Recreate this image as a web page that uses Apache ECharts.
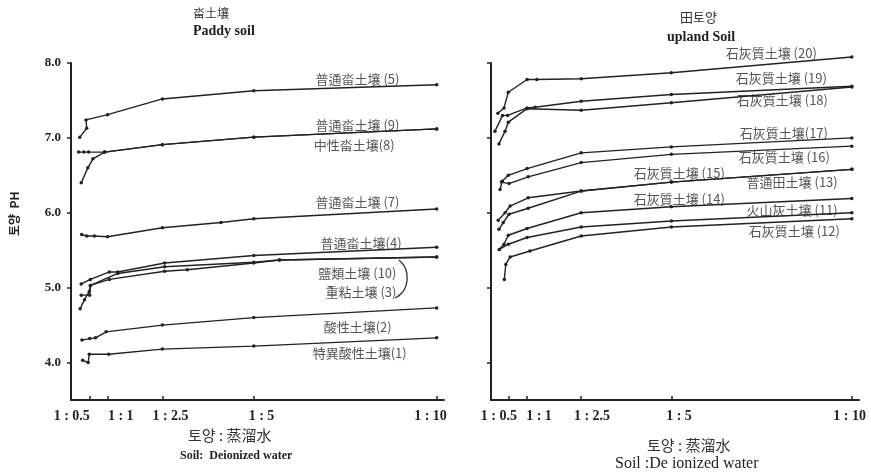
<!DOCTYPE html>
<html>
<head>
<meta charset="utf-8">
<script src="https://cdn.jsdelivr.net/npm/echarts@6/dist/echarts.min.js"></script>
<style>
html,body{margin:0;padding:0;background:#fff;}
#c{width:871px;height:475px;}
</style>
</head>
<body>
<div id="c"></div>
<script>
// ---- ratio ticks (soil : water) ----
const ratioTicks = [0.5, 1, 2.5, 5, 10];
const ratioLabels = ['1 : 0.5', '1 : 1', '1 : 2.5', '1 : 5', '1 : 10'];
const phTicks = [4, 5, 6, 7, 8];

// ---- Paddy soil (x = water ratio, y = pH) ----
const paddy5  = [[0.24,7.01],[0.43,7.13],[0.41,7.24],[1.0,7.31],[2.5,7.52],[5,7.63],[10,7.71]];
const paddy9  = [[0.21,6.81],[0.35,6.81],[0.48,6.81],[0.92,6.81],[2.5,6.91],[5,7.01],[10,7.12]];
const paddy8  = [[0.28,6.40],[0.46,6.60],[0.6,6.72],[0.92,6.81],[2.5,6.91],[5,7.01],[10,7.12]];
const paddy7  = [[0.29,5.71],[0.43,5.69],[0.64,5.69],[1.0,5.68],[2.5,5.80],[4.1,5.87],[5,5.92],[10,6.05]];
const paddy4  = [[0.28,5.05],[0.53,5.11],[1.05,5.21],[1.28,5.21],[2.56,5.33],[5,5.43],[10,5.54]];
const paddy10 = [[0.28,4.90],[0.51,4.90],[0.53,5.03],[1.05,5.11],[2.56,5.22],[3.18,5.24],[5,5.33],[5.7,5.37],[10,5.41]];
const paddy3  = [[0.25,4.72],[0.37,4.84],[0.5,4.95],[0.53,5.03],[1.28,5.19],[2.56,5.28],[5,5.34],[5.7,5.37],[10,5.41]];
const paddy2  = [[0.3,4.30],[0.51,4.32],[0.67,4.33],[0.96,4.41],[2.5,4.50],[5,4.60],[10,4.73]];
const paddy1  = [[0.32,4.03],[0.47,4.00],[0.5,4.11],[1.03,4.11],[2.5,4.18],[5,4.22],[10,4.33]];

// ---- Upland soil ----
const up20 = [[0.19,7.33],[0.36,7.40],[0.48,7.61],[1.0,7.78],[1.27,7.78],[2.5,7.79],[5,7.87],[10,8.08]];
const up19 = [[0.11,7.09],[0.32,7.30],[0.46,7.30],[1.0,7.40],[1.22,7.41],[2.5,7.49],[5,7.58],[10,7.69]];
const up18 = [[0.22,6.92],[0.39,7.09],[0.48,7.21],[1.0,7.39],[2.5,7.37],[5,7.47],[10,7.68]];
const up17 = [[0.25,6.31],[0.31,6.42],[0.48,6.50],[1.0,6.59],[2.5,6.80],[5,6.88],[10,7.00]];
const up16 = [[0.29,6.41],[0.5,6.39],[1.03,6.48],[2.5,6.67],[5,6.78],[10,6.89]];
const up15 = [[0.2,5.90],[0.39,6.00],[0.53,6.09],[1.03,6.20],[2.5,6.29],[5,6.41],[10,6.58]];
const up13 = [[0.22,5.78],[0.34,5.87],[0.5,5.98],[1.03,6.06],[2.5,6.29],[5,6.41],[10,6.58]];
const up14 = [[0.23,5.51],[0.36,5.58],[0.48,5.70],[1.0,5.79],[2.5,6.00],[5,6.08],[10,6.19]];
const up11 = [[0.23,5.51],[0.48,5.58],[1.0,5.67],[2.5,5.81],[5,5.89],[10,6.00]];
const up12 = [[0.37,5.11],[0.41,5.31],[0.53,5.41],[1.08,5.49],[2.5,5.69],[5,5.81],[10,5.92]];

const paddyNames = ['普通畓土壤 (5)','普通畓土壤 (9)','中性畓土壤(8)','普通畓土壤 (7)','普通畓土壤(4)','鹽類土壤 (10)','重粘土壤 (3)','酸性土壤(2)','特異酸性土壤(1)'];
const paddySeries = [paddy5, paddy9, paddy8, paddy7, paddy4, paddy10, paddy3, paddy2, paddy1];
const uplandNames = ['石灰質土壤 (20)','石灰質土壤 (19)','石灰質土壤 (18)','石灰質土壤(17)','石灰質土壤 (16)','石灰質土壤 (15)','普通田土壤 (13)','石灰質土壤 (14)','火山灰土壤 (11)','石灰質土壤 (12)'];
const uplandSeries = [up20, up19, up18, up17, up16, up15, up13, up14, up11, up12];

// ---- layout (annotation anchors in data units: right edge x, middle y) ----
const paddyLabelAt  = [[8.98,7.79],[8.98,7.17],[8.85,6.90],[8.98,6.14],[9.04,5.59],[8.9,5.19],[8.9,4.94],[8.77,4.47],[9.18,4.13]];
const uplandLabelAt = [[9.03,8.13],[9.31,7.80],[9.34,7.51],[9.34,7.06],[9.39,6.75],[6.48,6.53],[9.61,6.41],[6.48,6.18],[9.61,6.03],[9.67,5.75]];
const leftTickLabelPos  = [0.02, 1.36, 2.72, 5.21, 9.83];
const rightTickLabelPos = [0.22, 1.33, 2.80, 5.21, 9.94];

const INK = '#222';
const CJK = '"Noto Sans CJK KR","Noto Sans CJK SC",sans-serif';
const SERIF = '"Liberation Serif","DejaVu Serif",serif';

function xAxisFor(gi, labelPos) {
  return {
    type: 'value', gridIndex: gi, min: 0, max: 10.2,
    axisLine: {show: true, lineStyle: {color: INK, width: 2}},
    axisTick: {show: true, inside: true, length: 4, customValues: ratioTicks, lineStyle: {color: INK, width: 1.5}},
    axisLabel: {
      show: true, customValues: labelPos, hideOverlap: false, margin: 9,
      fontFamily: SERIF, fontWeight: 'bold', fontSize: 14, color: INK,
      formatter: function (v) {
        for (let i = 0; i < labelPos.length; i++) if (Math.abs(labelPos[i] - v) < 1e-6) return ratioLabels[i];
        return '';
      }
    },
    splitLine: {show: false}
  };
}
function yAxisFor(gi, showLabels) {
  return {
    type: 'value', gridIndex: gi, min: 3.5, max: 8.0,
    axisLine: {show: true, lineStyle: {color: INK, width: 2}},
    axisTick: {show: true, inside: false, length: 4, customValues: phTicks, lineStyle: {color: INK, width: 1.5}},
    axisLabel: {show: showLabels, customValues: phTicks, margin: 10, fontFamily: SERIF, fontWeight: 'bold', fontSize: 13, color: INK,
      formatter: v => v.toFixed(1)},
    splitLine: {show: false}
  };
}

const series = [];
function addLines(names, datas, gi) {
  datas.forEach((d, i) => {
    series.push({
      type: 'line', name: names[i], xAxisIndex: gi, yAxisIndex: gi, data: d,
      symbol: 'circle', symbolSize: 3.5, clip: false,
      lineStyle: {color: INK, width: 1.4}, itemStyle: {color: INK}, z: 3
    });
  });
}
function addLabels(names, anchors, gi) {
  series.push({
    type: 'scatter', xAxisIndex: gi, yAxisIndex: gi, silent: true, clip: false,
    symbolSize: 0, itemStyle: {color: 'rgba(0,0,0,0)'},
    data: anchors.map((a, i) => [a[0], a[1], names[i]]),
    label: {show: true, position: 'inside', align: 'right', verticalAlign: 'middle',
      formatter: p => p.data[2], fontFamily: CJK, fontSize: 13, color: '#2a2a2a'},
    labelLayout: {hideOverlap: false},
    z: 4
  });
}
addLines(paddyNames, paddySeries, 0);
addLines(uplandNames, uplandSeries, 1);
addLabels(paddyNames, paddyLabelAt, 0);
addLabels(uplandNames, uplandLabelAt, 1);

const chart = echarts.init(document.getElementById('c'), null, {renderer: 'canvas'});
chart.setOption({
  backgroundColor: '#fff',
  animation: false,
  grid: [
    {left: 71, top: 63, width: 373, height: 337},
    {left: 491, top: 63, width: 368, height: 337}
  ],
  xAxis: [xAxisFor(0, leftTickLabelPos), xAxisFor(1, rightTickLabelPos)],
  yAxis: [yAxisFor(0, true), yAxisFor(1, false)],
  series: series,
  graphic: [
    {type: 'text', left: 193, top: 7, style: {text: '畓土壤', font: '12px ' + CJK, fill: '#333'}},
    {type: 'text', left: 193, top: 24, style: {text: 'Paddy soil', font: 'bold 14px ' + SERIF, fill: INK}},
    {type: 'text', left: 680, top: 11, style: {text: '田토양', font: '13px ' + CJK, fill: '#333'}},
    {type: 'text', left: 667, top: 30, style: {text: 'upland Soil', font: 'bold 14px ' + SERIF, fill: INK}},
    {type: 'text', left: 188, top: 428, style: {text: '토양 : 蒸溜水', font: '15px ' + CJK, fill: '#333'}},
    {type: 'text', left: 180, top: 450, style: {text: 'Soil:  Deionized water', font: 'bold 12px ' + SERIF, fill: INK}},
    {type: 'text', left: 647, top: 438, style: {text: '토양 : 蒸溜水', font: '15px ' + CJK, fill: '#333'}},
    {type: 'text', left: 615, top: 456, style: {text: 'Soil :De ionized water', font: '16px ' + SERIF, fill: INK}},
    {type: 'text', x: 8, y: 236, rotation: Math.PI / 2, style: {text: '토양  PH', font: 'bold 12px ' + CJK, fill: INK}},
    {type: 'bezierCurve', shape: {x1: 399, y1: 260, cpx1: 411, cpy1: 270, cpx2: 410, cpy2: 291, x2: 395, y2: 298},
      style: {stroke: '#333', lineWidth: 1.3, fill: null}}
  ]
});
</script>
</body>
</html>
